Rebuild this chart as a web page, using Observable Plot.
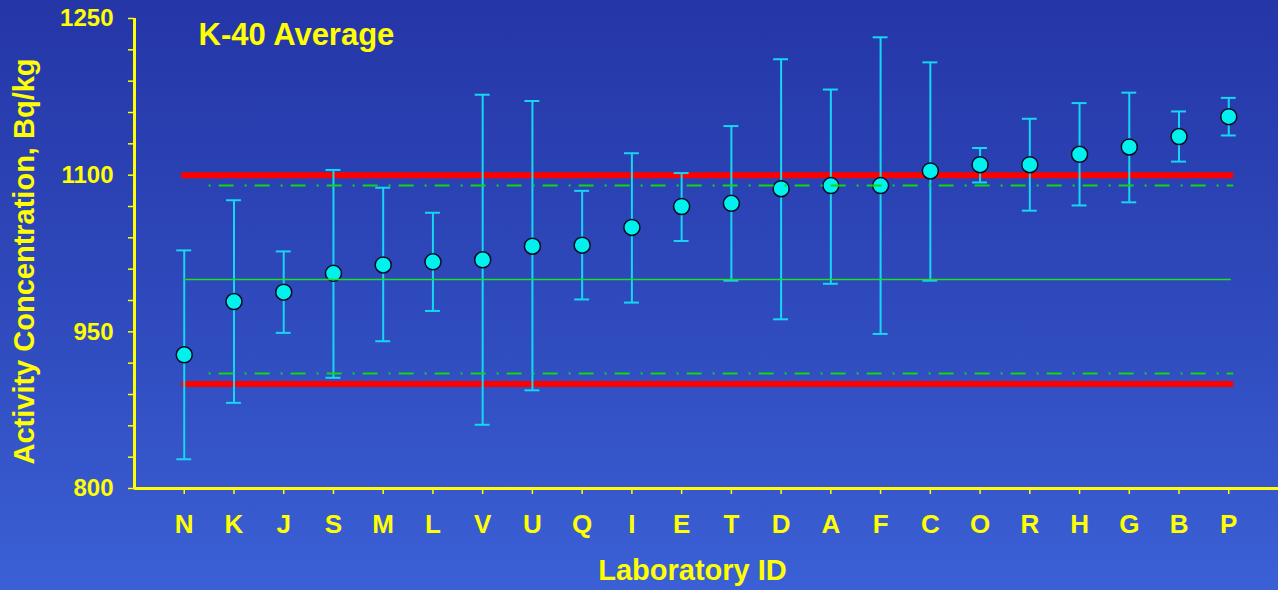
<!DOCTYPE html>
<html>
<head>
<meta charset="utf-8">
<script src="https://cdn.jsdelivr.net/npm/d3@7"></script>
<script src="https://cdn.jsdelivr.net/npm/@observablehq/plot@0.6"></script>
<style>
  html, body { margin: 0; padding: 0; }
  body {
    width: 1278px; height: 590px; overflow: hidden;
    background: linear-gradient(to bottom, #2536a7 0%, #2f4bbd 55%, #3b60d6 100%);
  }
  #chart svg { display: block; }
</style>
</head>
<body>
<div id="chart"></div>
<script>
// Laboratory IDs (in plotted order)
const labs = ["N","K","J","S","M","L","V","U","Q","I","E","T","D","A","F","C","O","R","H","G","B","P"];
// Mean K-40 activity concentration, Bq/kg
const means = [928, 979, 988, 1006, 1014, 1017, 1019, 1032, 1033, 1050, 1070, 1073, 1087, 1090, 1090, 1104, 1110, 1110, 1120, 1127, 1137, 1156];
// Lower / upper end of error bars
const lows  = [828, 882, 949, 906, 941, 970, 861, 894, 981, 978, 1037, 999, 962, 996, 948, 999, 1093, 1066, 1071, 1074, 1113, 1138];
const highs = [1028, 1076, 1027, 1105, 1088, 1064, 1177, 1171, 1085, 1121, 1102, 1147, 1211, 1182, 1232, 1208, 1126, 1154, 1169, 1179, 1161, 1174];
// Reference levels
const redLimits = [900, 1100];
const greenLimits = [910, 1090];
const refValue = [1000];
// Y ticks
const yTicks = d3.range(800, 1251, 30);
const yLabelTicks = [800, 950, 1100, 1250];

const data = labs.map((lab, i) => ({i, lab, mean: means[i], lo: lows[i], hi: highs[i]}));
const lastIdx = labs.length - 1;

const yellow = "#ffff00";
const cyan = "#16d6f2";

const plot = Plot.plot({
  width: 1278,
  height: 590,
  marginLeft: 134,
  marginRight: 0,
  marginTop: 18,
  marginBottom: 102,
  style: {background: "transparent", color: yellow, fontFamily: "'Liberation Sans', Arial, sans-serif", overflow: "visible"},
  x: {type: "linear", domain: [-1, labs.length], label: null},
  y: {domain: [800, 1250], label: null},
  marks: [
    // red limit lines
    Plot.ruleY(redLimits, {x1: -0.05, x2: lastIdx + 0.1, stroke: "#ff0000", strokeWidth: 6}),
    // error bars
    Plot.ruleX(data, {x: "i", y1: "lo", y2: "hi", stroke: cyan, strokeWidth: 2}),
    Plot.ruleY(data, {y: "hi", x1: d => d.i - 0.15, x2: d => d.i + 0.15, stroke: cyan, strokeWidth: 2}),
    Plot.ruleY(data, {y: "lo", x1: d => d.i - 0.15, x2: d => d.i + 0.15, stroke: cyan, strokeWidth: 2}),
    // points
    Plot.dot(data, {x: "i", y: "mean", r: 8, fill: "#00f2ee", stroke: "#0a0a20", strokeWidth: 1.5}),
    // green reference lines
    Plot.ruleY(refValue, {x1: 0, x2: lastIdx + 0.05, stroke: "#1fe01f", strokeWidth: 1.5}),
    Plot.ruleY(greenLimits, {x1: 0.5, x2: lastIdx + 0.1, stroke: "#10d810", strokeWidth: 2, strokeDasharray: "2,8,15,11"}),
    // axes
    Plot.axisY(yTicks, {
      tickSize: 6, tickPadding: 15, strokeWidth: 1.5,
      tickFormat: d => yLabelTicks.includes(d) ? String(d) : "",
      fontSize: 24, fontWeight: "bold", fill: yellow, stroke: yellow, label: null
    }),
    Plot.axisX(d3.range(labs.length), {
      tickSize: 6, tickPadding: 20, strokeWidth: 1.5,
      tickFormat: i => labs[i],
      fontSize: 26, fontWeight: "bold", fill: yellow, stroke: yellow, label: null
    }),
    Plot.ruleY([800], {stroke: yellow, strokeWidth: 3}),
    Plot.ruleX([-1], {y1: 800, y2: 1250, stroke: yellow, strokeWidth: 3}),
    // titles
    Plot.text(["K-40 Average"], {text: d => d, frameAnchor: "top-left", textAnchor: "start", lineAnchor: "middle",
      dx: 64, dy: 17, fontSize: 31, fontWeight: "bold", fill: yellow}),
    Plot.text(["Laboratory ID"], {text: d => d, frameAnchor: "bottom", textAnchor: "middle", lineAnchor: "middle",
      dx: -14, dy: 82, fontSize: 29, fontWeight: "bold", fill: yellow}),
    Plot.text(["Activity Concentration, Bq/kg"], {text: d => d, frameAnchor: "left", textAnchor: "middle", lineAnchor: "middle",
      rotate: -90, dx: -110, dy: 8, fontSize: 29, fontWeight: "bold", fill: yellow})
  ]
});
document.getElementById("chart").appendChild(plot);
</script>
</body>
</html>
